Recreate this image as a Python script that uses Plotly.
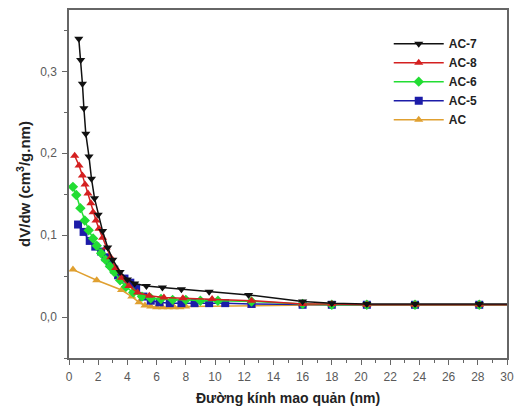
import plotly.graph_objects as go

# ---- data ----
ac7_x = [0.67, 0.8, 0.92, 1.02, 1.15, 1.37, 1.54, 1.75, 2.0, 2.3, 2.65, 3.0, 3.5, 4.0, 4.5, 5.3, 6.4, 7.7, 9.6, 12.3, 16.0, 18.0, 20.4, 23.7, 28.1, 32]
ac7_y = [0.340, 0.314, 0.285, 0.255, 0.224, 0.196, 0.169, 0.145, 0.125, 0.105, 0.085, 0.070, 0.055, 0.046, 0.041, 0.038, 0.036, 0.034, 0.031, 0.027, 0.019, 0.017, 0.016, 0.016, 0.016, 0.016]

ac8_x = [0.39, 0.69, 0.92, 1.1, 1.3, 1.5, 1.65, 1.85, 2.05, 2.3, 2.55, 2.85, 3.2, 3.6, 4.1, 4.7, 5.5, 6.5, 7.8, 9.8, 12.5, 16.0, 18.0, 20.4, 23.7, 28.1, 32]
ac8_y = [0.197, 0.185, 0.173, 0.162, 0.151, 0.139, 0.128, 0.118, 0.108, 0.097, 0.085, 0.073, 0.060, 0.048, 0.038, 0.030, 0.026, 0.024, 0.023, 0.022, 0.020, 0.016, 0.016, 0.015, 0.015, 0.015, 0.015]

ac6_x = [0.27, 0.5, 0.78, 1.08, 1.35, 1.65, 1.9, 2.2, 2.5, 2.8, 3.1, 3.5, 3.9, 4.4, 5.0, 5.6, 6.3, 7.1, 8.0, 9.0, 10.2, 12.5, 16.0, 18.0, 20.4, 23.7, 28.1, 32]
ac6_y = [0.159, 0.149, 0.133, 0.118, 0.106, 0.096, 0.087, 0.078, 0.070, 0.062, 0.055, 0.045, 0.037, 0.030, 0.025, 0.023, 0.022, 0.021, 0.021, 0.020, 0.020, 0.019, 0.016, 0.015, 0.015, 0.015, 0.015, 0.015]

ac5_x = [0.62, 1.0, 1.42, 1.8, 2.2, 2.5, 2.8, 3.1, 3.36, 3.8, 4.2, 4.6, 5.1, 5.6, 6.2, 6.9, 7.7, 8.6, 9.6, 10.7, 12.5, 16.0, 18.0, 20.4, 23.7, 28.1, 32]
ac5_y = [0.113, 0.104, 0.093, 0.086, 0.080, 0.073, 0.065, 0.058, 0.051, 0.047, 0.042, 0.035, 0.025, 0.020, 0.018, 0.017, 0.017, 0.017, 0.017, 0.017, 0.016, 0.015, 0.015, 0.015, 0.015, 0.015, 0.015]

ac_x = [0.27, 1.9, 3.6, 4.3, 4.8, 5.2, 5.6, 6.0, 6.4, 6.8, 7.2, 7.6, 8.0, 12.5, 16.0, 18.0, 20.4, 23.7, 28.1, 32]
ac_y = [0.058, 0.045, 0.033, 0.025, 0.018, 0.014, 0.013, 0.012, 0.012, 0.012, 0.012, 0.012, 0.013, 0.014, 0.015, 0.015, 0.015, 0.015, 0.015, 0.015]

series = [
    ("AC", ac_x, ac_y, "#e0a030", "triangle-up", 5),
    ("AC-5", ac5_x, ac5_y, "#1c1ca8", "square", 4),
    ("AC-6", ac6_x, ac6_y, "#22dd33", "diamond", 3),
    ("AC-8", ac8_x, ac8_y, "#d42020", "triangle-up", 2),
    ("AC-7", ac7_x, ac7_y, "#111111", "triangle-down", 1),
]

fig = go.Figure()
for name, xs, ys, col, sym, rank in series:
    fig.add_trace(go.Scatter(
        x=xs, y=ys, name=name, mode="lines+markers",
        line=dict(color=col, width=1.5),
        marker=dict(symbol=sym, size=8, color=col),
        legendrank=rank,
    ))

axis_col = "#666666"
fig.update_layout(
    width=516, height=410,
    margin=dict(l=69, r=9, t=10, b=52),
    paper_bgcolor="white", plot_bgcolor="white",
    separators=", ",
    font=dict(family="Arial, Liberation Sans, sans-serif", color="#5a5a5a", size=12),
    showlegend=True,
    legend=dict(
        x=0.73, y=0.945, xanchor="left", yanchor="top",
        bgcolor="rgba(0,0,0,0)",
        font=dict(family="Arial, Liberation Sans, sans-serif", size=12, color="#222222", weight="bold"),
        tracegroupgap=0, itemwidth=50,
    ),
)
fig.update_xaxes(
    range=[0, 30], dtick=2, tick0=0, automargin=False,
    showgrid=False, zeroline=False,
    showline=True, linecolor=axis_col, linewidth=1.5, mirror=True,
    ticks="outside", ticklen=5, tickcolor=axis_col, tickwidth=1,
    ticklabelstandoff=2,
    minor=dict(dtick=1, ticks="outside", ticklen=3, tickcolor=axis_col),
    title=dict(text="Đường kính mao quản (nm)", standoff=10,
               font=dict(size=14, color="#222222", weight="bold")),
)
fig.update_yaxes(
    range=[-0.05, 0.375], dtick=0.1, tick0=0, tickformat=".1f", automargin=False,
    showgrid=False, zeroline=False,
    showline=True, linecolor=axis_col, linewidth=1.5, mirror=True,
    ticks="outside", ticklen=5, tickcolor=axis_col, tickwidth=1,
    ticklabelstandoff=3,
    minor=dict(dtick=0.05, ticks="outside", ticklen=3, tickcolor=axis_col),
    title=dict(text="dV/dw (cm<sup>3</sup>/g.nm)", standoff=6,
               font=dict(size=15, color="#222222", weight="bold")),
)

fig.write_html("out.html")
